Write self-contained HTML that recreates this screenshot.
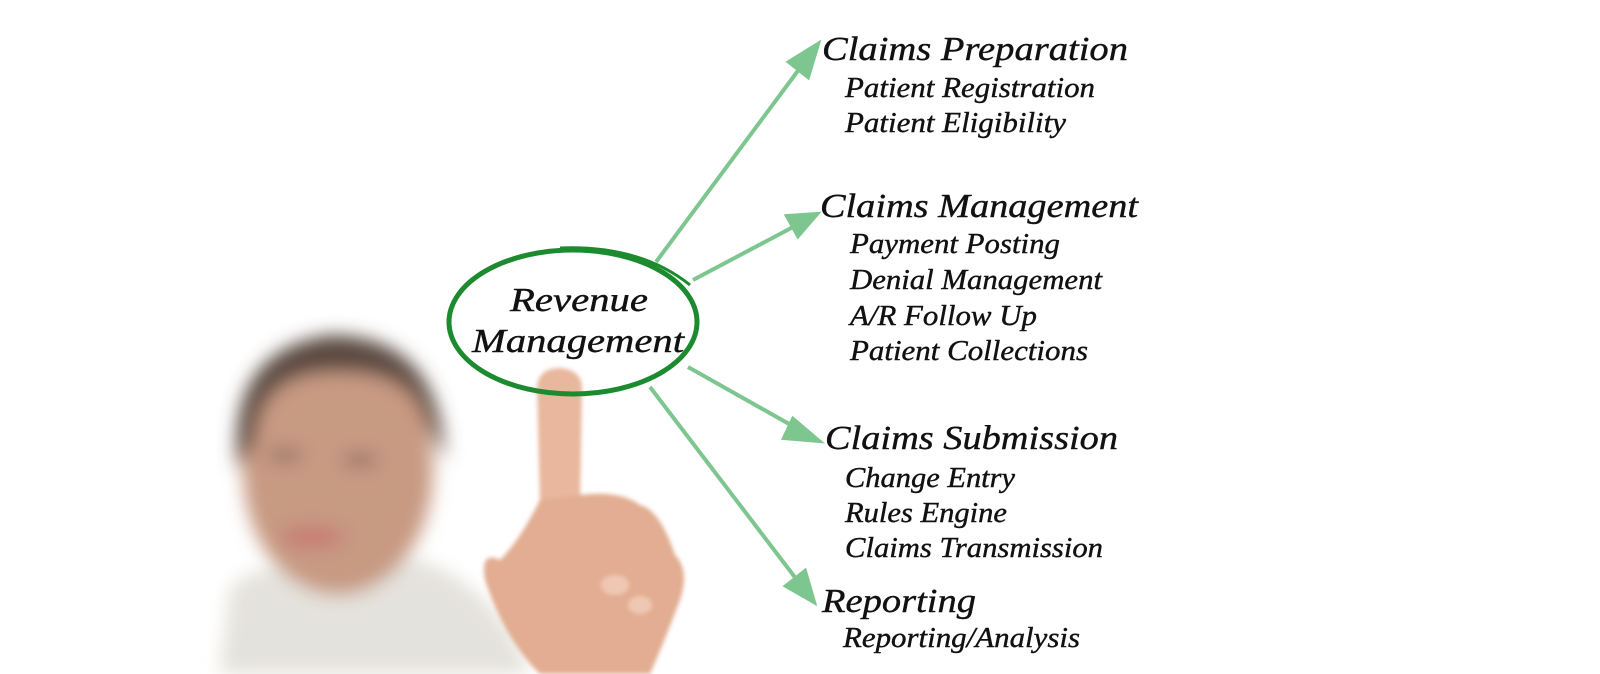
<!DOCTYPE html>
<html><head><meta charset="utf-8"><style>
html,body{margin:0;padding:0;background:#fff;}
svg{display:block}
text{font-family:"Liberation Serif",serif;font-style:italic;fill:#111;stroke:#111;stroke-width:0.4;}
.h{font-size:34px}
.s{font-size:28px}
</style></head><body>
<svg width="1600" height="674" viewBox="0 0 1600 674" xmlns="http://www.w3.org/2000/svg">
<defs>
<filter id="b" x="-20%" y="-20%" width="140%" height="140%"><feGaussianBlur stdDeviation="9"/></filter>
<filter id="b2"><feGaussianBlur stdDeviation="2"/></filter>
</defs>
<g filter="url(#b)">
<path d="M230,590 Q250,560 330,570 L420,560 Q500,590 530,674 L220,674 Z" fill="#e4e2dc"/>
<ellipse cx="338" cy="470" rx="95" ry="125" fill="#c79a82"/>
<path d="M238,470 Q225,350 330,335 Q440,335 445,460 L425,420 Q410,370 335,372 Q260,372 255,440 Z" fill="#5a4a40"/>
<ellipse cx="312" cy="537" rx="32" ry="10" fill="#c67a72"/>
<ellipse cx="285" cy="455" rx="18" ry="6" fill="#8b6f60"/>
<ellipse cx="360" cy="460" rx="18" ry="6" fill="#8b6f60"/>
</g>
<g filter="url(#b2)">
<path d="M540,505 L537,385 Q540,368 560,368 Q583,370 582,390 L580,505 Z" fill="#e8b79d"/>
<path d="M540,500 Q520,540 500,560 Q480,550 485,580 Q505,640 540,674 L650,674 Q665,640 680,600 Q690,570 675,555 Q660,510 640,505 Q620,490 580,495 Z" fill="#e2ad92"/>
<ellipse cx="615" cy="585" rx="14" ry="10" fill="#efc8b4"/>
<ellipse cx="640" cy="605" rx="12" ry="9" fill="#efc8b4"/>
</g>
<g stroke="#7dc68f" stroke-width="4" fill="#7dc68f">
<line x1="656" y1="262" x2="800" y2="68"/>
<polygon points="818,44 789,62 808,77"/>
<line x1="693" y1="280" x2="795" y2="226"/>
<polygon points="817,214 787,216 798,236"/>
<line x1="688" y1="367" x2="798" y2="429"/>
<polygon points="819,441 793,419 784,438"/>
<line x1="650" y1="387" x2="797" y2="580"/>
<polygon points="814,602 786,586 805,571"/>
</g>
<ellipse cx="573" cy="322" rx="124" ry="72" fill="none" stroke="#1c8a2e" stroke-width="5"/>
<path d="M560,248 Q640,245 690,285" fill="none" stroke="#1c8a2e" stroke-width="3"/>
<text class="h" x="510" y="311" textLength="138" lengthAdjust="spacingAndGlyphs">Revenue</text>
<text class="h" x="472" y="352" textLength="212" lengthAdjust="spacingAndGlyphs">Management</text>
<text class="h" x="822" y="60" textLength="306" lengthAdjust="spacingAndGlyphs">Claims Preparation</text>
<text class="s" x="845" y="97" textLength="250" lengthAdjust="spacingAndGlyphs">Patient Registration</text>
<text class="s" x="845" y="132" textLength="221" lengthAdjust="spacingAndGlyphs">Patient Eligibility</text>
<text class="h" x="820" y="217" textLength="318" lengthAdjust="spacingAndGlyphs">Claims Management</text>
<text class="s" x="850" y="253" textLength="210" lengthAdjust="spacingAndGlyphs">Payment Posting</text>
<text class="s" x="850" y="289" textLength="252" lengthAdjust="spacingAndGlyphs">Denial Management</text>
<text class="s" x="850" y="325" textLength="187" lengthAdjust="spacingAndGlyphs">A/R Follow Up</text>
<text class="s" x="850" y="360" textLength="238" lengthAdjust="spacingAndGlyphs">Patient Collections</text>
<text class="h" x="825" y="449" textLength="293" lengthAdjust="spacingAndGlyphs">Claims Submission</text>
<text class="s" x="845" y="487" textLength="170" lengthAdjust="spacingAndGlyphs">Change Entry</text>
<text class="s" x="845" y="522" textLength="162" lengthAdjust="spacingAndGlyphs">Rules Engine</text>
<text class="s" x="845" y="557" textLength="258" lengthAdjust="spacingAndGlyphs">Claims Transmission</text>
<text class="h" x="822" y="612" textLength="154" lengthAdjust="spacingAndGlyphs">Reporting</text>
<text class="s" x="843" y="647" textLength="237" lengthAdjust="spacingAndGlyphs">Reporting/Analysis</text>
</svg>
</body></html>
